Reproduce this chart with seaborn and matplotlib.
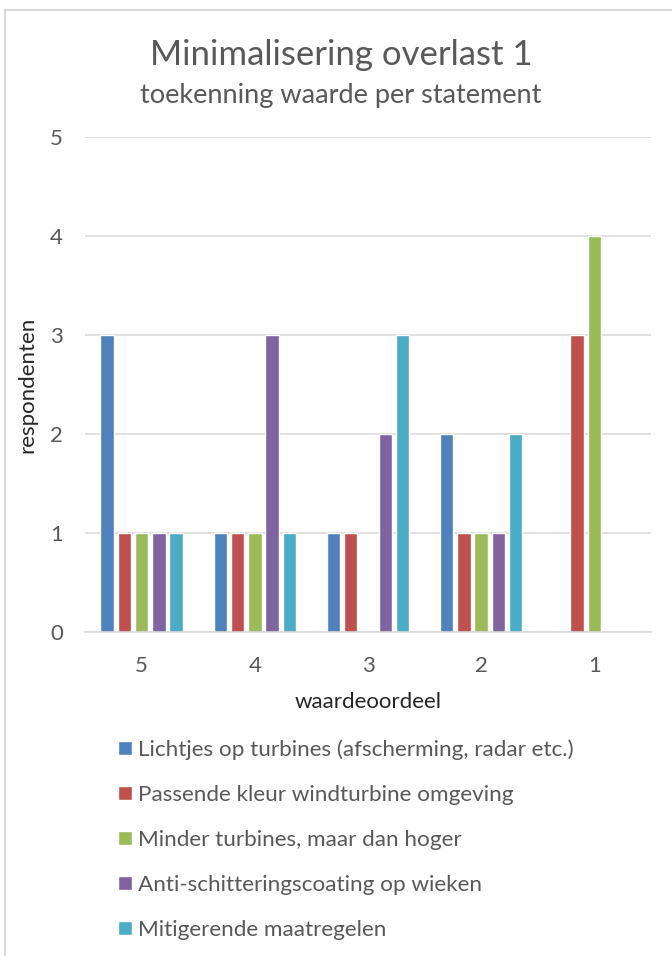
import matplotlib
matplotlib.use("Agg")
import matplotlib.pyplot as plt
from matplotlib.lines import Line2D
import seaborn as sns
import pandas as pd

categories = ["5", "4", "3", "2", "1"]
series = [
    "Lichtjes op turbines (afscherming, radar etc.)",
    "Passende kleur windturbine omgeving",
    "Minder turbines, maar dan hoger",
    "Anti-schitteringscoating op wieken",
    "Mitigerende maatregelen",
]
lichtjes = [3, 1, 1, 2, 0]
kleur = [1, 1, 1, 1, 3]
minder = [1, 1, 0, 1, 4]
coating = [1, 3, 2, 1, 0]
mitigerend = [1, 1, 3, 2, 0]
colors = ["#4F81BD", "#C0504D", "#9BBB59", "#8064A2", "#4BACC6"]

title = "Minimalisering overlast 1"
subtitle = "toekenning waarde per statement"
xlabel = "waardeoordeel"
ylabel = "respondenten"

rows = []
for name, vals in zip(series, [lichtjes, kleur, minder, coating, mitigerend]):
    for c, v in zip(categories, vals):
        rows.append({"waarde": c, "reeks": name, "aantal": v})
df = pd.DataFrame(rows)

sns.set_theme(style="white")
plt.rcParams["font.family"] = ["Lato", "DejaVu Sans"]
txt = "#595959"
dark = "#262626"

fig = plt.figure(figsize=(6.72, 9.56), dpi=100)
ax = fig.add_axes([85 / 672, 1 - 632 / 956, 566 / 672, 495 / 956])

sns.barplot(data=df, x="waarde", y="aantal", hue="reeks", order=categories,
            hue_order=series, palette=colors, width=0.761, gap=0.22,
            saturation=1, ax=ax, legend=True)

ax.set_ylim(0, 5)
ax.set_xlim(-0.5, 4.5)
ax.set_yticks([0, 1, 2, 3, 4, 5])
ax.yaxis.grid(True, color="#D9D9D9", linewidth=1.1)
ax.set_axisbelow(True)
for s in ["top", "right", "left"]:
    ax.spines[s].set_visible(False)
ax.spines["bottom"].set_color("#D9D9D9")
ax.spines["bottom"].set_linewidth(1.1)
ax.tick_params(axis="both", length=0, labelsize=16, labelcolor=txt)
ax.tick_params(axis="y", pad=16)
ax.tick_params(axis="x", pad=17)
ax.set_xlabel(xlabel, fontsize=16, color=dark, labelpad=12)
ax.set_ylabel(ylabel, fontsize=16, color=dark, labelpad=9)

handles, labels = ax.get_legend_handles_labels()
ax.get_legend().remove()
leg = fig.legend(handles, labels, loc="upper left",
                 bbox_to_anchor=(118 / 672, 1 - 739 / 956), frameon=False,
                 fontsize=16.2, handlelength=0.62, handleheight=0.58,
                 handletextpad=0.28, labelspacing=1.12, borderpad=0,
                 borderaxespad=0)
for t in leg.get_texts():
    t.set_color(txt)

fig.text(341 / 672, 1 - 55 / 956, title, ha="center", va="center",
         fontsize=25, color=txt)
fig.text(341 / 672, 1 - 96 / 956, subtitle, ha="center", va="center",
         fontsize=19.5, color=txt)

fig.add_artist(Line2D([5 / 672, 5 / 672], [0, 1 - 10 / 956],
                      transform=fig.transFigure, color="#D9D9D9", lw=1.5))
fig.add_artist(Line2D([5 / 672, 1], [1 - 10 / 956, 1 - 10 / 956],
                      transform=fig.transFigure, color="#D9D9D9", lw=1.5))

fig.savefig("out.png", dpi=100, facecolor="white")
